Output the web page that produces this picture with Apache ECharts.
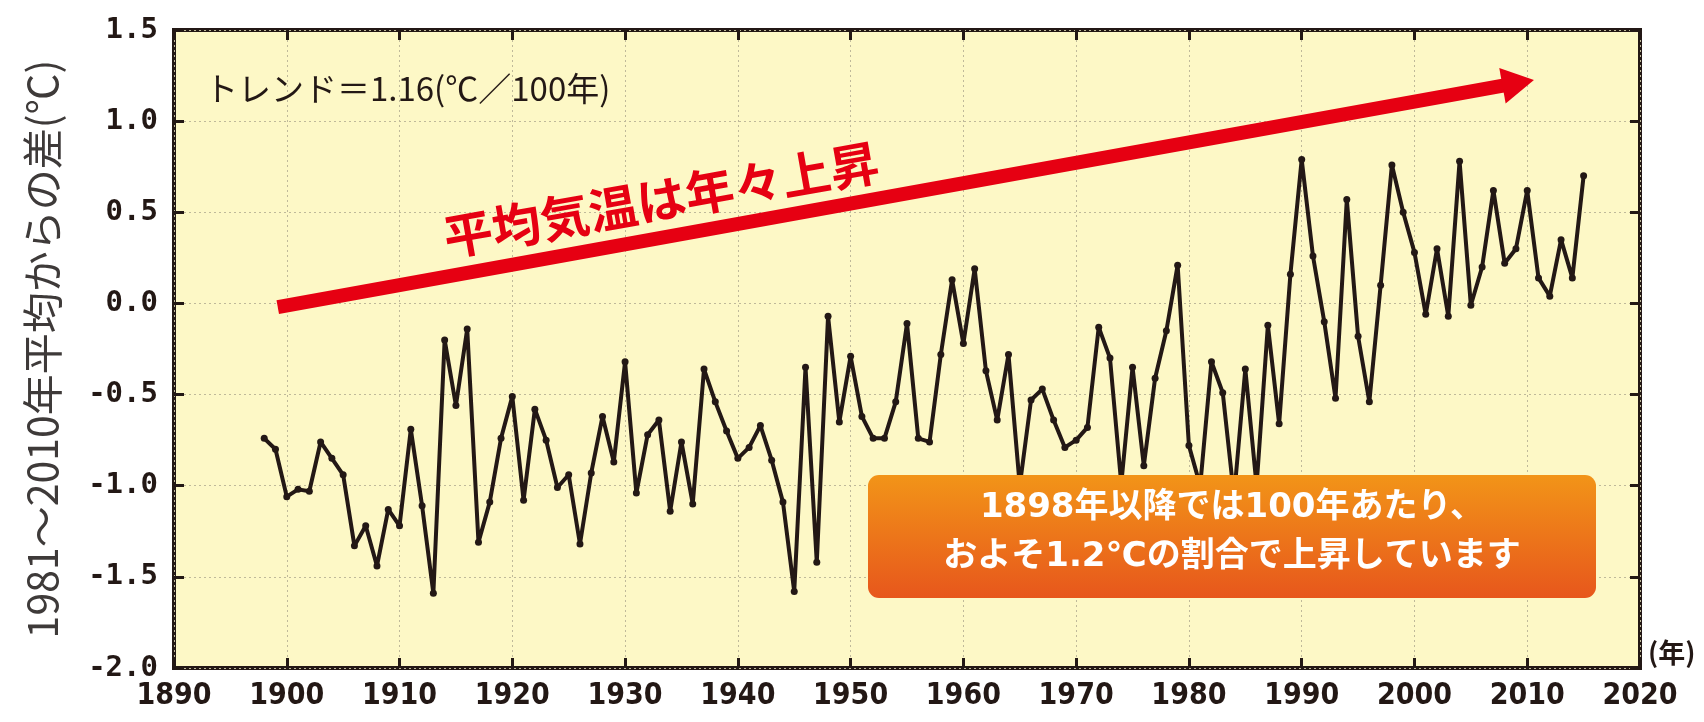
<!DOCTYPE html>
<html>
<head>
<meta charset="utf-8">
<title>日本の年平均気温偏差</title>
<script src="https://cdn.jsdelivr.net/npm/echarts@6/dist/echarts.min.js"></script>
<style>
  html, body { margin: 0; padding: 0; background: #ffffff; }
  #main { width: 1704px; height: 722px; }
</style>
</head>
<body>
<div id="main"></div>
<script>
// Annual mean temperature anomaly (°C, deviation from the 1981–2010 mean), 1898–2015
const firstYear = 1898;
const anomalies = [
  -0.74, -0.80,
  -1.06, -1.02, -1.03, -0.76, -0.85, -0.94, -1.33, -1.22, -1.44, -1.13,
  -1.22, -0.69, -1.11, -1.59, -0.20, -0.56, -0.14, -1.31, -1.09, -0.74,
  -0.51, -1.08, -0.58, -0.75, -1.01, -0.94, -1.32, -0.93, -0.62, -0.87,
  -0.32, -1.04, -0.72, -0.64, -1.14, -0.76, -1.10, -0.36, -0.54, -0.70,
  -0.85, -0.79, -0.67, -0.86, -1.09, -1.58, -0.35, -1.42, -0.07, -0.65,
  -0.29, -0.62, -0.74, -0.74, -0.54, -0.11, -0.74, -0.76, -0.28,  0.13,
  -0.22,  0.19, -0.37, -0.64, -0.28, -1.00, -0.53, -0.47, -0.64, -0.79,
  -0.75, -0.68, -0.13, -0.30, -0.99, -0.35, -0.89, -0.41, -0.15,  0.21,
  -0.78, -1.00, -0.32, -0.49, -1.06, -0.36, -1.00, -0.12, -0.66,  0.16,
   0.79,  0.26, -0.10, -0.52,  0.57, -0.18, -0.54,  0.10,  0.76,  0.50,
   0.28, -0.06,  0.30, -0.07,  0.78, -0.01,  0.20,  0.62,  0.22,  0.30,
   0.62,  0.14,  0.04,  0.35,  0.14,  0.70
];
const years = anomalies.map((_, i) => firstYear + i);

// Axis ranges and tick steps
const xRange = [1890, 2020];
const xStep = 10;
const yRange = [-2.0, 1.5];
const yStep = 0.5;

// Trend arrow (start / end in data coordinates)
const trendStart = [1899.2, -0.02];
const trendEnd = [2009.2, 1.21];

// Texts
const yAxisTitle = '1981～2010年平均からの差(℃)';
const xAxisUnit = '(年)';
const trendNote = 'トレンド＝1.16(℃／100年)';
const trendCaption = '平均気温は年々上昇';
const trendCaptionAt = [1933.2, 0.57];
const summaryLines = ['1898年以降では100年あたり、', 'およそ1.2℃の割合で上昇しています'];

const INK = '#231815';
const RED = '#e60012';
const CJK = "'Noto Sans CJK JP', 'Noto Sans', sans-serif";
const WIDE = "'DejaVu Sans', 'Noto Sans CJK JP', sans-serif";

const chart = echarts.init(document.getElementById('main'), null, { renderer: 'canvas' });

const tickStyle = { show: true, inside: true, length: 10, lineStyle: { color: INK, width: 3 } };
const gridLine = { show: true, lineStyle: { color: '#bfb99a', width: 1, type: [2, 3] } };
const hiddenLine = { show: false, onZero: false };

chart.setOption({
  animation: false,
  backgroundColor: '#ffffff',
  grid: {
    show: true,
    left: 174, right: 64, top: 30, bottom: 54,
    backgroundColor: '#fdf8c6',
    borderColor: INK,
    borderWidth: 4
  },
  xAxis: [
    {
      type: 'value', position: 'bottom',
      min: xRange[0], max: xRange[1], interval: xStep,
      axisLine: hiddenLine,
      axisTick: tickStyle,
      splitLine: gridLine,
      axisLabel: {
        margin: 13, color: INK, fontSize: 30, fontWeight: 'bold',
        fontFamily: "'Liberation Sans Narrow', 'DejaVu Sans Condensed', 'Liberation Sans', sans-serif",
        formatter: v => String(v)
      },
      name: xAxisUnit, nameLocation: 'end', nameGap: 8,
      nameTextStyle: {
        color: INK, fontSize: 27, fontWeight: 'bold', fontFamily: CJK,
        verticalAlign: 'bottom', padding: [0, 0, 2, 0]
      }
    },
    {
      type: 'value', position: 'top',
      min: xRange[0], max: xRange[1], interval: xStep,
      axisLine: hiddenLine, axisTick: tickStyle,
      axisLabel: { show: false }, splitLine: { show: false }
    }
  ],
  yAxis: [
    {
      type: 'value', position: 'left',
      min: yRange[0], max: yRange[1], interval: yStep,
      axisLine: hiddenLine,
      axisTick: tickStyle,
      splitLine: gridLine,
      axisLabel: {
        margin: 16, color: INK, fontSize: 29, fontWeight: 'bold',
        fontFamily: "'DejaVu Sans Mono', monospace",
        formatter: v => v.toFixed(1)
      },
      name: yAxisTitle, nameLocation: 'middle', nameGap: 111, nameRotate: 90,
      nameTextStyle: { color: '#3e3a39', fontSize: 41, fontFamily: CJK }
    },
    {
      type: 'value', position: 'right',
      min: yRange[0], max: yRange[1], interval: yStep,
      axisLine: hiddenLine, axisTick: tickStyle,
      axisLabel: { show: false }, splitLine: { show: false }
    }
  ],
  series: [
    {
      type: 'line',
      xAxisIndex: 0, yAxisIndex: 0,
      data: years.map((y, i) => [y, anomalies[i]]),
      symbol: 'circle', symbolSize: 7,
      lineStyle: { color: INK, width: 4 },
      itemStyle: { color: INK },
      z: 3,
      markLine: {
        silent: true,
        symbol: ['none', 'triangle'],
        symbolSize: [36, 32],
        label: { show: false },
        lineStyle: { color: RED, width: 14, type: 'solid', opacity: 1 },
        emphasis: { disabled: true },
        data: [[{ coord: trendStart }, { coord: trendEnd }]],
        z: 2
      }
    }
  ]
});

// Annotations placed from data coordinates
const captionPos = chart.convertToPixel({ gridIndex: 0 }, trendCaptionAt);
const boxX = 868, boxY = 475, boxW = 728, boxH = 123;

chart.setOption({
  graphic: [
    {
      type: 'text', left: 205, top: 72, z: 10,
      style: { text: trendNote, fill: INK, font: "33px " + CJK }
    },
    {
      type: 'text', x: captionPos[0], y: captionPos[1],
      rotation: 10 * Math.PI / 180, z: 10,
      style: {
        text: trendCaption, fill: RED, align: 'center', verticalAlign: 'middle',
        font: "bold 49px " + CJK
      }
    },
    {
      type: 'group', x: boxX, y: boxY, z: 100,
      children: [
        {
          type: 'rect', z: 100,
          shape: { x: 0, y: 0, width: boxW, height: boxH, r: 11 },
          style: {
            fill: new echarts.graphic.LinearGradient(0, 0, 0, 1, [
              { offset: 0, color: '#f29418' },
              { offset: 1, color: '#e7571c' }
            ])
          }
        },
        {
          type: 'text', z: 101, x: boxW / 2, y: 33,
          style: {
            text: summaryLines[0], fill: '#ffffff', align: 'center', verticalAlign: 'middle',
            font: "bold 34px " + WIDE
          }
        },
        {
          type: 'text', z: 101, x: boxW / 2, y: 82,
          style: {
            text: summaryLines[1], fill: '#ffffff', align: 'center', verticalAlign: 'middle',
            font: "bold 34px " + WIDE
          }
        }
      ]
    }
  ]
});
</script>
</body>
</html>
